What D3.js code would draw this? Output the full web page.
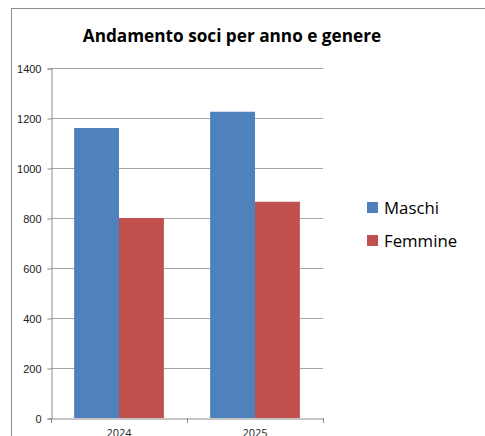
<!DOCTYPE html>
<html>
<head>
<meta charset="utf-8">
<script src="https://cdn.jsdelivr.net/npm/d3@7"></script>
<style>
  body { margin: 0; background: #fff; }
  text { font-family: "Open Sans", "Liberation Sans", sans-serif; }
</style>
</head>
<body>
<script>
var years = ["2024", "2025"];
var seriesNames = ["Maschi", "Femmine"];
var maschi = [1160, 1225];
var femmine = [800, 865];
var yTicks = [0, 200, 400, 600, 800, 1000, 1200, 1400];
var colors = ["#4F81BD", "#C0504D"];

var w = 485, h = 436;
var plot = { left: 51, right: 323, top: 68, bottom: 418 };

var svg = d3.select("body").append("svg").attr("width", w).attr("height", h);

// chart frame
svg.append("rect")
  .attr("x", 11.5).attr("y", 8.5)
  .attr("width", w).attr("height", h)
  .attr("fill", "none").attr("stroke", "#8c8c8c");

svg.append("text")
  .attr("x", 232).attr("y", 42)
  .attr("text-anchor", "middle")
  .attr("font-size", 17.2).attr("font-weight", "bold")
  .attr("fill", "#000")
  .text("Andamento soci per anno e genere");

var x0 = d3.scaleBand().domain(years).range([plot.left, plot.right]).paddingInner(0.34).paddingOuter(0.17);
var x1 = d3.scaleBand().domain(seriesNames).range([0, x0.bandwidth()]);
var y = d3.scaleLinear().domain([0, 1400]).range([plot.bottom, plot.top]);

// gridlines
svg.append("g").selectAll("line").data(yTicks.slice(1)).enter().append("line")
  .attr("x1", plot.left).attr("x2", plot.right)
  .attr("y1", function(d){ return Math.round(y(d)) + 0.5; })
  .attr("y2", function(d){ return Math.round(y(d)) + 0.5; })
  .attr("stroke", "#a6a6a6");

var rows = years.map(function(yr, i){ return { year: yr, values: [maschi[i], femmine[i]] }; });

svg.append("g").selectAll("g").data(rows).enter().append("g")
  .attr("transform", function(d){ return "translate(" + x0(d.year) + ",0)"; })
  .selectAll("rect").data(function(d){ return d.values.map(function(v, j){ return { name: seriesNames[j], v: v, c: colors[j] }; }); })
  .enter().append("rect")
  .attr("x", function(d){ return x1(d.name); })
  .attr("width", x1.bandwidth())
  .attr("y", function(d){ return y(d.v); })
  .attr("height", function(d){ return plot.bottom - y(d.v); })
  .attr("fill", function(d){ return d.c; });

// y axis
var yAxis = svg.append("g")
  .attr("transform", "translate(" + (plot.left + 0.5) + ",0.5)")
  .call(d3.axisLeft(y).tickValues(yTicks).tickSize(4).tickPadding(6).tickFormat(d3.format("d")));
yAxis.select(".domain").attr("stroke", "#8c8c8c");
yAxis.selectAll(".tick line").attr("stroke", "#8c8c8c");
yAxis.selectAll(".tick text").attr("font-size", 11).attr("fill", "#222")
  .style("font-family", "'Liberation Sans', sans-serif");

// x axis
var xAxis = svg.append("g")
  .attr("transform", "translate(0," + (plot.bottom + 0.5) + ")")
  .call(d3.axisBottom(x0).tickSize(0).tickPadding(11));
xAxis.select(".domain").attr("stroke", "#8c8c8c");
xAxis.selectAll(".tick text").attr("font-size", 11).attr("fill", "#222");
// category separators
svg.append("g").selectAll("line").data([plot.left, (plot.left + plot.right) / 2, plot.right]).enter().append("line")
  .attr("x1", function(d){ return Math.round(d) + 0.5; })
  .attr("x2", function(d){ return Math.round(d) + 0.5; })
  .attr("y1", plot.bottom).attr("y2", plot.bottom + 5)
  .attr("stroke", "#8c8c8c");

// legend
var legend = svg.append("g").selectAll("g").data(seriesNames).enter().append("g")
  .attr("transform", function(d, i){ return "translate(367," + (202 + i * 33) + ")"; });
legend.append("rect").attr("width", 11).attr("height", 11)
  .attr("fill", function(d, i){ return colors[i]; });
legend.append("text").attr("x", 17).attr("y", 11.5)
  .attr("font-size", 16.8).attr("fill", "#000")
  .text(function(d){ return d; });
</script>
</body>
</html>
